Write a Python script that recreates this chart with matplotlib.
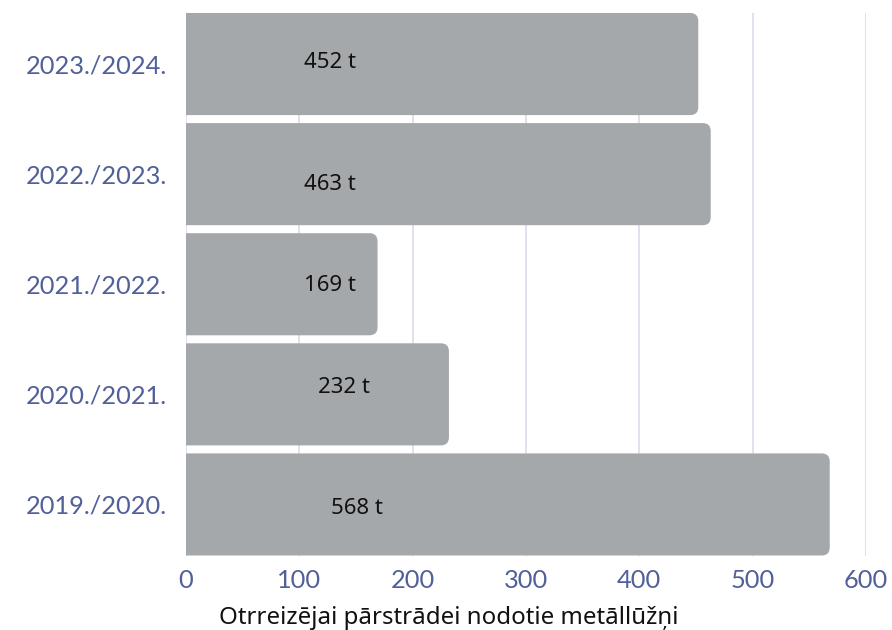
import numpy as np
import matplotlib
matplotlib.use("Agg")
import matplotlib.pyplot as plt
from matplotlib.patches import FancyBboxPatch

seasons = ["2019./2020.", "2020./2021.", "2021./2022.", "2022./2023.", "2023./2024."]
tonnes = [568, 232, 169, 463, 452]
labels = ["568 t", "232 t", "169 t", "463 t", "452 t"]
xticks = [0, 100, 200, 300, 400, 500, 600]

# where the value labels sit (data x, y offset from bar centre)
label_x = [151, 139, 127, 127, 127]
label_dy = [-0.04, 0.06, -0.01, -0.09, 0.01]

bar_color = "#a4a8aa"
tick_color = "#52609a"
bar_h = 102 / 110.0

plt.rcParams['font.family'] = ['Lato', 'DejaVu Sans']

fig = plt.figure(figsize=(8.92, 6.3), dpi=100)
ax = fig.add_axes([186/892, 1-555.5/630, 680/892, 542.5/630])

y = np.arange(len(seasons))
bars = ax.barh(y, tonnes, height=bar_h, color=bar_color, zorder=2)

ax.set_xlim(0, 600)
ax.set_ylim(-bar_h / 2, len(seasons) - 1 + bar_h / 2)

# rounded right ends, left side pushed past the axes edge and clipped
px_x = 600 / 680.0
px_y = (len(seasons) - 1 + bar_h) / 542.5
r = 8 * px_x
for b in bars:
    x0, y0 = b.get_x(), b.get_y()
    w, h = b.get_width(), b.get_height()
    b.set_visible(False)
    p = FancyBboxPatch((x0 - 3 * r, y0), w + 3 * r, h,
                       boxstyle="round,pad=0,rounding_size=%f" % r,
                       mutation_aspect=px_y / px_x,
                       facecolor=bar_color, edgecolor="none", zorder=2)
    ax.add_patch(p)

for i in range(len(seasons)):
    ax.text(label_x[i], y[i] + label_dy[i], labels[i], ha="center", va="center",
            fontsize=16, color="#111111", family=["Noto Sans", "DejaVu Sans"],
            zorder=3)

ax.set_xticks(xticks)
ax.set_yticks(y)
ax.set_yticklabels(seasons)
ax.tick_params(axis="both", length=0, labelsize=18.3, labelcolor=tick_color)
ax.tick_params(axis="x", pad=10)
ax.tick_params(axis="y", pad=14)
ax.grid(axis="x", color="#dcdcea", linewidth=1.2, zorder=0)
ax.set_axisbelow(True)
for s in ax.spines.values():
    s.set_visible(False)

ax.set_xlabel("Otrreizējai pārstrādei nodotie metāllūžņi", fontsize=17.3,
              color="#111111", family=["Noto Sans", "DejaVu Sans"])
# x axis title is centred on the whole figure, not the plot area
ax.xaxis.label.set_verticalalignment("top")
ax.xaxis.set_label_coords((449 - 186) / 680.0, -(606 - 555.5) / 542.5)

fig.savefig("out.png", dpi=100)
